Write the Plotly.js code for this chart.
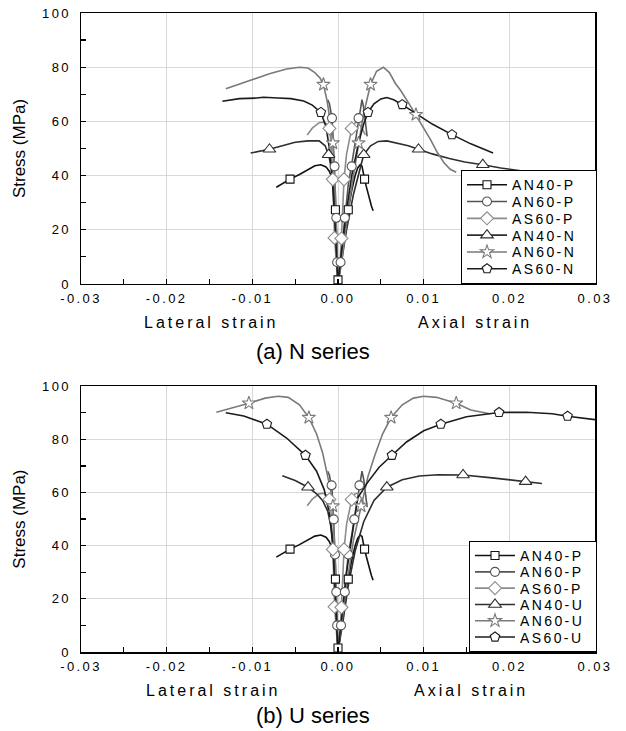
<!DOCTYPE html>
<html><head><meta charset="utf-8">
<script src="https://cdn.plot.ly/plotly-3.0.1.min.js"></script>
<style>
html,body{margin:0;padding:0;background:#fff;}
#chart{width:626px;height:731px;}
text.legendtext,text.legend2text{letter-spacing:2.4px;}
.xtick text,.x2tick text,.ytick text,.y2tick text{letter-spacing:2.4px;}
.annotation[data-index="0"] text,.annotation[data-index="1"] text,.annotation[data-index="3"] text,.annotation[data-index="4"] text{letter-spacing:3px;}
</style></head><body><div id="chart"></div><script>
// ---- tick labels ----
const xTickVals = [-0.03,-0.02,-0.01,0,0.01,0.02,0.03];
const xTickText = ['-0.03','-0.02','-0.01','0.00','0.01','0.02','0.03'];

// ---- P series curves (shared by both panels): lateral end -> origin -> axial end ----
const an40p_x = [-0.0072,-0.0064,-0.0056,-0.0045,-0.0035,-0.0027,-0.0020,-0.0014,-0.0010,-0.0007,-0.0005,-0.0003,-0.0002,-0.0001,0,0.0004,0.0008,0.0012,0.0016,0.0020,0.0023,0.0026,0.0028,0.0030,0.0031,0.0033,0.0035,0.0037,0.0039,0.0041];
const an40p_y = [35.7,37.3,38.7,40.4,42.3,43.6,44.0,43.2,41.5,39.0,35.0,27.4,18.0,8.0,0,10.0,19.0,27.4,34.5,40.0,42.8,44.0,43.5,41.0,38.7,36.0,33.2,30.8,28.8,27.0];
const an60p_x = [-0.0012,-0.0010,-0.0008,-0.0007,-0.0006,-0.0005,-0.0004,-0.0003,-0.0002,-0.0001,0,0.0003,0.0007,0.0012,0.0016,0.0019,0.0022,0.0024,0.0026,0.0028,0.0030,0.0032,0.0034];
const an60p_y = [68.0,66.5,63.0,61.0,56.0,50.0,42.0,33.0,22.0,10.0,0,8.0,20.0,36.7,44.0,50.0,56.0,61.5,65.0,68.0,65.0,59.0,54.5];
const as60p_x = [-0.0036,-0.0030,-0.0022,-0.0017,-0.0013,-0.0010,-0.0008,-0.0006,-0.0004,-0.0002,0,0.0002,0.0004,0.0007,0.0010,0.0016,0.0020,0.0023,0.0027,0.0032];
const as60p_y = [55.0,57.5,59.5,59.7,59.0,57.4,52.0,38.6,17.0,7.0,0,6.0,16.8,38.6,48.0,57.4,59.5,59.7,58.0,55.0];

// ---- N series curves ----
const an40n_x = [-0.0102,-0.0090,-0.0080,-0.0065,-0.0050,-0.0035,-0.0022,-0.0015,-0.0011,-0.0008,-0.0005,-0.0003,-0.0001,0,0.0004,0.0010,0.0018,0.0025,0.0030,0.0038,0.0047,0.0057,0.0070,0.0082,0.0094,0.0110,0.0130,0.0148,0.0169,0.0190,0.0215,0.0242];
const an40n_y = [48.3,49.0,49.7,51.0,52.3,52.8,52.8,51.0,47.7,43.0,35.0,25.0,12.0,0,8.0,20.0,33.0,42.0,47.7,51.0,52.6,52.8,52.0,51.0,49.7,48.0,46.3,45.0,44.0,42.8,41.7,40.7];
const an60n_x = [-0.0131,-0.0105,-0.0080,-0.0060,-0.0045,-0.0035,-0.0027,-0.0021,-0.0017,-0.0013,-0.0010,-0.0006,-0.0004,-0.0002,-0.0001,0,0.0005,0.0011,0.0018,0.0024,0.0030,0.0038,0.0045,0.0053,0.0060,0.0067,0.0073,0.0082,0.0091,0.0100,0.0108,0.0116,0.0124,0.0131,0.0138];
const an60n_y = [72.0,75.0,77.6,79.3,80.0,79.7,78.0,76.0,73.6,68.0,62.0,52.0,40.0,22.0,10.0,0,10.0,25.0,40.0,52.0,63.0,73.6,78.5,80.0,78.0,74.0,71.5,67.0,62.5,57.5,53.3,48.5,44.6,42.3,41.2];
const as60n_x = [-0.0135,-0.0115,-0.0095,-0.0087,-0.0070,-0.0055,-0.0040,-0.0030,-0.0020,-0.0014,-0.0010,-0.0007,-0.0004,-0.0002,0,0.0004,0.0009,0.0016,0.0024,0.0030,0.0035,0.0042,0.0050,0.0057,0.0065,0.0075,0.0090,0.0110,0.0133,0.0155,0.0181];
const as60n_y = [67.4,68.4,68.6,68.9,68.6,68.4,67.5,66.0,63.3,58.0,50.0,40.0,25.0,12.0,0,12.0,25.0,40.0,52.0,59.0,63.3,66.5,68.3,68.8,68.0,66.2,63.0,59.0,55.1,51.7,48.3];

// ---- U series curves ----
const an40u_x = [-0.0065,-0.0050,-0.0035,-0.0025,-0.0018,-0.0012,-0.0008,-0.0005,-0.0003,-0.0001,0,0.0006,0.0012,0.0020,0.0030,0.0042,0.0057,0.0075,0.0095,0.0117,0.0146,0.0180,0.0219,0.0238];
const an40u_y = [66.3,64.5,62.0,59.5,57.0,53.0,47.0,38.0,25.0,10.0,0,12.0,25.0,38.0,49.0,57.0,62.0,64.8,66.2,66.7,66.6,65.5,64.1,63.4];
const an60u_x = [-0.0142,-0.0125,-0.0104,-0.0085,-0.0070,-0.0058,-0.0045,-0.0034,-0.0025,-0.0018,-0.0012,-0.0008,-0.0006,-0.0004,-0.0002,-0.0001,0,0.0004,0.0010,0.0018,0.0027,0.0035,0.0043,0.0052,0.0062,0.0075,0.0088,0.0100,0.0115,0.0138,0.0155,0.0177];
const an60u_y = [90.2,91.6,93.6,95.5,96.2,95.8,93.0,88.2,82.0,75.0,66.0,60.0,54.9,42.0,25.0,10.0,0,10.0,25.0,42.0,54.9,66.0,74.0,82.0,88.2,93.0,95.5,96.2,95.8,93.6,91.0,89.6];
const as60u_x = [-0.0131,-0.0110,-0.0083,-0.0060,-0.0038,-0.0025,-0.0016,-0.0010,-0.0006,-0.0003,0,0.0005,0.0010,0.0017,0.0023,0.0035,0.0048,0.0063,0.0080,0.0100,0.0120,0.0150,0.0188,0.0220,0.0250,0.0268,0.0300];
const as60u_y = [90.0,88.8,85.7,80.5,74.0,68.0,61.0,52.0,40.0,22.0,0,15.0,30.0,45.0,58.0,64.0,69.5,74.0,79.0,83.2,85.7,88.5,90.1,90.2,89.6,88.7,87.4];

// ---- symbol marker positions ----
const an40p_mx = [-0.0056,-0.0003,0,0.0012,0.0031];
const an40p_my = [38.7,27.4,1.5,27.4,38.7];
const an60p_mxTop = [-0.0007,-0.0004,-0.0002,-0.0001,0.0003,0.0008,0.0016,0.0024];
const an60p_myTop = [61.2,43.4,24.4,8.0,8.0,24.4,43.4,61.2];
const an60p_mxBot = [-0.00075,-0.0005,-0.00035,-0.0002,-0.0001,0.00035,0.0008,0.0012,0.0019,0.0025];
const an60p_myBot = [62.7,49.9,36.7,22.6,10.0,10.0,22.6,36.7,49.9,62.7];
const as60p_mx = [-0.0010,-0.0006,-0.0004,0.0004,0.0007,0.0016];
const as60p_my = [57.4,38.6,17.0,16.8,38.6,57.4];
const an40n_mx = [-0.0080,-0.0011,0.0030,0.0094,0.0169];
const an40n_my = [49.7,47.7,47.7,49.7,44.0];
const an60n_mx = [-0.0017,-0.0006,0.0024,0.0038,0.0091];
const an60n_my = [73.6,52.0,52.0,73.6,62.5];
const as60n_mx = [-0.0020,0.0035,0.0075,0.0133];
const as60n_my = [63.3,63.3,66.2,55.1];
const an40u_mx = [-0.0035,0.0057,0.0146,0.0219];
const an40u_my = [62.0,62.0,66.6,64.1];
const an60u_mx = [-0.0104,-0.0034,-0.0006,0.0027,0.0062,0.0138];
const an60u_my = [93.6,88.2,54.9,54.9,88.2,93.6];
const as60u_mx = [-0.0083,-0.0038,0.0063,0.0120,0.0188,0.0268];
const as60u_my = [85.7,74.0,74.0,85.7,90.1,88.7];

// ---- series names ----
const namesTop = ['AN40-P','AN60-P','AS60-P','AN40-N','AN60-N','AS60-N'];
const namesBot = ['AN40-P','AN60-P','AS60-P','AN40-U','AN60-U','AS60-U'];

// styles per slot (position in legend)
const styles = [
  {color:'#111111', symbol:'square', size:8},
  {color:'#555555', symbol:'circle', size:9},
  {color:'#8c8c8c', symbol:'diamond', size:10},
  {color:'#2e2e2e', symbol:'triangle-up', size:11},
  {color:'#7a7a7a', symbol:'star', size:10},
  {color:'#1c1c1c', symbol:'pentagon', size:10}
];

const topSeries = [
  [an40p_x,an40p_y,an40p_mx,an40p_my],
  [an60p_x,an60p_y,an60p_mxTop,an60p_myTop],
  [as60p_x,as60p_y,as60p_mx,as60p_my],
  [an40n_x,an40n_y,an40n_mx,an40n_my],
  [an60n_x,an60n_y,an60n_mx,an60n_my],
  [as60n_x,as60n_y,as60n_mx,as60n_my]
];
const botSeries = [
  [an40p_x,an40p_y,an40p_mx,an40p_my],
  [an60p_x,an60p_y,an60p_mxBot,an60p_myBot],
  [as60p_x,as60p_y,as60p_mx,as60p_my],
  [an40u_x,an40u_y,an40u_mx,an40u_my],
  [an60u_x,an60u_y,an60u_mx,an60u_my],
  [as60u_x,as60u_y,as60u_mx,as60u_my]
];

const traces = [];
function addPanel(series, names, xa, ya, leg){
  series.forEach((s,i)=>{
    traces.push({type:'scatter', mode:'lines', x:s[0], y:s[1], xaxis:xa, yaxis:ya,
      line:{color:styles[i].color, width:1.6}, showlegend:false, hoverinfo:'skip'});
  });
  series.forEach((s,i)=>{
    traces.push({type:'scatter', mode:'markers', x:s[2], y:s[3], xaxis:xa, yaxis:ya, cliponaxis:false,
      marker:{symbol:styles[i].symbol, size:styles[i].size, color:'#ffffff', line:{color:styles[i].color, width:1.1}},
      showlegend:false, hoverinfo:'skip'});
  });
  names.forEach((n,i)=>{
    traces.push({type:'scatter', mode:'lines+markers', x:[null], y:[null], xaxis:xa, yaxis:ya, name:n, legend:leg,
      line:{color:styles[i].color, width:1.6},
      marker:{symbol:styles[i].symbol, size:styles[i].size, color:'#ffffff', line:{color:styles[i].color, width:1.1}}});
  });
}
addPanel(topSeries, namesTop, 'x', 'y', 'legend');
addPanel(botSeries, namesBot, 'x2', 'y2', 'legend2');

const FONT = 'Arial, "Liberation Sans", sans-serif';
function xAxis(anchor){
  return {anchor:anchor, domain:[0,1], range:[-0.03,0.03], tickmode:'array', tickvals:xTickVals, ticktext:xTickText,
    ticks:'inside', ticklen:5, tickwidth:1.2, tickcolor:'#000', ticklabelstandoff:2,
    minor:{tickmode:'linear', tick0:-0.03, dtick:0.005, ticks:'inside', ticklen:5, tickwidth:1.2, tickcolor:'#000', showgrid:false},
    showgrid:true, gridcolor:'#d8d8d8', gridwidth:1, zeroline:false,
    showline:true, linecolor:'#000', linewidth:1.5, mirror:true,
    tickfont:{family:FONT, size:13, color:'#000'}, fixedrange:true};
}
function yAxis(anchor, dom){
  return {anchor:anchor, domain:dom, range:[0,100], tickmode:'linear', tick0:0, dtick:20,
    ticks:'inside', ticklen:5, tickwidth:1.2, tickcolor:'#000', ticklabelstandoff:6,
    minor:{tickmode:'linear', tick0:0, dtick:10, ticks:'inside', ticklen:5, tickwidth:1.2, tickcolor:'#000', showgrid:false},
    showgrid:true, gridcolor:'#d8d8d8', gridwidth:1, zeroline:false,
    showline:true, linecolor:'#000', linewidth:1.5, mirror:true,
    tickfont:{family:FONT, size:13, color:'#000'},
    title:{text:'Stress (MPa)', font:{family:FONT, size:17, color:'#000'}, standoff:12}, fixedrange:true};
}
function legendCfg(y){
  return {x:1, y:y, xanchor:'right', yanchor:'bottom', bgcolor:'#ffffff', bordercolor:'#000', borderwidth:1,
    font:{family:FONT, size:14, color:'#000'}, tracegroupgap:0, itemwidth:40};
}
function ann(text, x, y, size){
  return {text:text, xref:'paper', yref:'paper', x:x, y:y, xanchor:'center', yanchor:'middle',
    showarrow:false, font:{family:FONT, size:size, color:'#000'}};
}
const layout = {
  width:626, height:731,
  margin:{l:81, r:31, t:13, b:79},
  paper_bgcolor:'#ffffff', plot_bgcolor:'#ffffff',
  font:{family:FONT, color:'#000'},
  showlegend:true,
  xaxis:xAxis('y'), yaxis:yAxis('x',[0.576,1]),
  xaxis2:xAxis('y2'), yaxis2:yAxis('x2',[0,0.416]),
  legend:legendCfg(0.576),
  legend2:legendCfg(0),
  annotations:[
    ann('Lateral strain', 0.253, 0.515, 16),
    ann('Axial strain', 0.767, 0.515, 16),
    ann('(a) N series', 0.451, 0.4695, 22),
    ann('Lateral strain', 0.257, -0.0595, 16),
    ann('Axial strain', 0.759, -0.0595, 16),
    ann('(b) U series', 0.451, -0.0986, 22)
  ]
};

// tighten legend rows and box to the original compact legend box
function fitLegend(id, rowH, boxW, rightX){
  const lg = document.querySelector('g.' + id);
  if(!lg) return;
  const items = Array.from(lg.querySelectorAll('g.traces'));
  if(items.length < 2) return;
  const parse = el => {
    const m = /translate\(\s*([-\d.eE]+)[ ,]+([-\d.eE]+)/.exec(el.getAttribute('transform') || '');
    return m ? [parseFloat(m[1]), parseFloat(m[2])] : [0, 0];
  };
  const pos = items.map(parse);
  const oldRow = pos[1][1] - pos[0][1];
  const shrink = oldRow - rowH;
  const bg = lg.querySelector('rect.bg');
  const h = parseFloat(bg.getAttribute('height'));
  let newH = h;
  if(shrink > 0){
    items.forEach((el, i) => el.setAttribute('transform',
      'translate(' + pos[i][0] + ',' + (pos[0][1] - shrink * 0.5 + i * rowH) + ')'));
    newH = h - shrink * items.length;
    bg.setAttribute('height', newH);
  }
  bg.setAttribute('width', boxW);
  const lp = parse(lg);
  lg.setAttribute('transform', 'translate(' + (rightX - boxW) + ',' + (lp[1] + (h - newH)) + ')');
}

Plotly.newPlot('chart', traces, layout, {displayModeBar:false, staticPlot:true}).then(() => {
  fitLegend('legend', 16.8, 135, 596);
  fitLegend('legend2', 16.3, 127, 596);
});
</script></body></html>
